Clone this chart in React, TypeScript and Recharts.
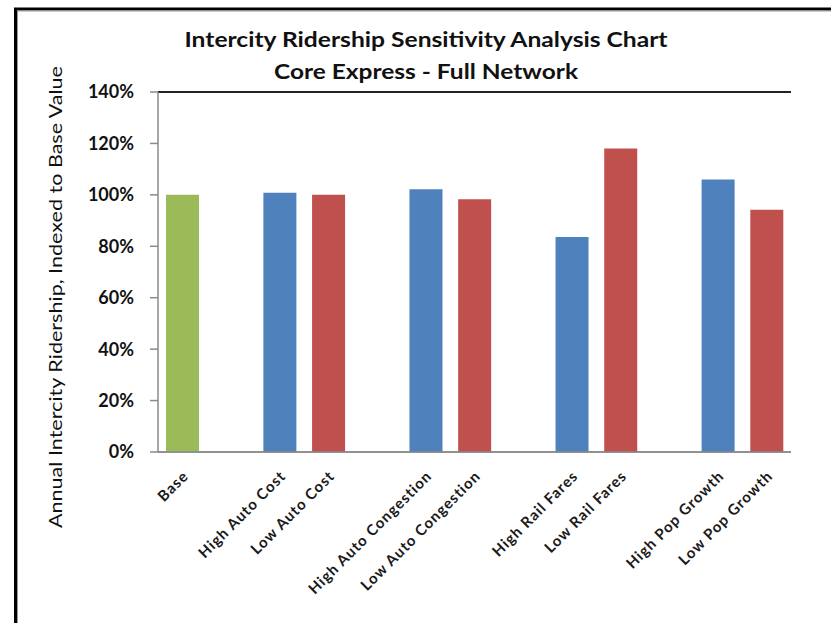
import React from 'react';
import { BarChart, Bar, XAxis, YAxis, CartesianGrid, Cell, ReferenceLine } from 'recharts';

const categories = ['Base', '', 'High Auto Cost', 'Low Auto Cost', '', 'High Auto Congestion', 'Low Auto Congestion', '', 'High Rail Fares', 'Low Rail Fares', '', 'High Pop Growth', 'Low Pop Growth'];
const values: (number | null)[] = [100, null, 100.8, 100, null, 102.2, 98.3, null, 83.6, 118, null, 106, 94.2];
const kinds = ['base', '', 'high', 'low', '', 'high', 'low', '', 'high', 'low', '', 'high', 'low'];
const yTicks = [0, 20, 40, 60, 80, 100, 120, 140];
const colors: Record<string, string> = { base: '#9BBB59', high: '#4F81BD', low: '#C0504D', '': '#ffffff' };

const titleLine1 = 'Intercity Ridership Sensitivity Analysis Chart';
const titleLine2 = 'Core Express - Full Network';
const yTitle = 'Annual Intercity Ridership, Indexed to Base Value';

const data = categories.map((c, i) => ({ name: c, value: values[i], kind: kinds[i] }));

const XTick = (props: any) => {
  const { x, y, payload } = props;
  if (!payload || !payload.value) return null;
  const ax = x + 7;
  const ay = y + 17;
  return (
    <text
      x={ax}
      y={ay}
      transform={`rotate(-45, ${ax}, ${ay})`}
      textAnchor="end"
      fontFamily="Lato, sans-serif"
      fontWeight="bold"
      fontSize={15}
      letterSpacing={1}
      fill="#1a1a1a"
    >
      {payload.value}
    </text>
  );
};

export default function App() {
  return (
    <div style={{ position: 'absolute', left: 0, top: 0, width: 831, height: 623, background: '#fff' }}>
      <BarChart
        width={831}
        height={623}
        data={data}
        margin={{ top: 92, right: 40, left: 58, bottom: 51 }}
        barSize={33}
      >
        <CartesianGrid vertical={false} stroke="#8a8a8a" strokeWidth={1.3} />
        <XAxis
          dataKey="name"
          height={120}
          interval={0}
          tickLine={false}
          axisLine={{ stroke: '#8a8a8a', strokeWidth: 1.5 }}
          tick={<XTick />}
        />
        <YAxis
          yAxisId="left"
          width={100}
          domain={[0, 140]}
          ticks={yTicks}
          interval={0}
          tickFormatter={(v: number) => `${v}%`}
          tickSize={8}
          tickMargin={16}
          axisLine={{ stroke: '#8a8a8a', strokeWidth: 1.5 }}
          tickLine={{ stroke: '#8a8a8a', strokeWidth: 1.5 }}
          tick={{ fontFamily: 'Lato, sans-serif', fontWeight: 'bold', fontSize: 18, fill: '#111' }}
        />
        <YAxis
          yAxisId="right"
          orientation="right"
          width={0}
          domain={[0, 140]}
          tick={false}
          tickLine={false}
          axisLine={{ stroke: '#222', strokeWidth: 2 }}
        />
        <ReferenceLine yAxisId="left" y={140} stroke="#222" strokeWidth={2} />
        <Bar yAxisId="left" dataKey="value" isAnimationActive={false}>
          {data.map((d, i) => (
            <Cell key={i} fill={colors[d.kind]} />
          ))}
        </Bar>
      </BarChart>
      <svg width={831} height={623} style={{ position: 'absolute', left: 0, top: 0, pointerEvents: 'none' }}>
        <line x1={15.5} y1={9} x2={15.5} y2={623} stroke="#000" strokeWidth={3} />
        <line x1={14} y1={9} x2={831} y2={9} stroke="#000" strokeWidth={3} />
        <line x1={17.5} y1={11} x2={17.5} y2={623} stroke="#999" strokeWidth={1} />
        <line x1={17} y1={11} x2={831} y2={11} stroke="#999" strokeWidth={1} />
        <text x={426} y={47} textAnchor="middle" fontFamily="Lato, sans-serif" fontWeight="bold" fontSize={21} fill="#111" textLength={483} lengthAdjust="spacingAndGlyphs">
          {titleLine1}
        </text>
        <text x={426} y={79} textAnchor="middle" fontFamily="Lato, sans-serif" fontWeight="bold" fontSize={21} fill="#111" textLength={304} lengthAdjust="spacingAndGlyphs">
          {titleLine2}
        </text>
        <text x={62} y={297} transform="rotate(-90, 62, 297)" textAnchor="middle" fontFamily="Lato, sans-serif" fontSize={17} fill="#111" textLength={462} lengthAdjust="spacingAndGlyphs">
          {yTitle}
        </text>
      </svg>
    </div>
  );
}
